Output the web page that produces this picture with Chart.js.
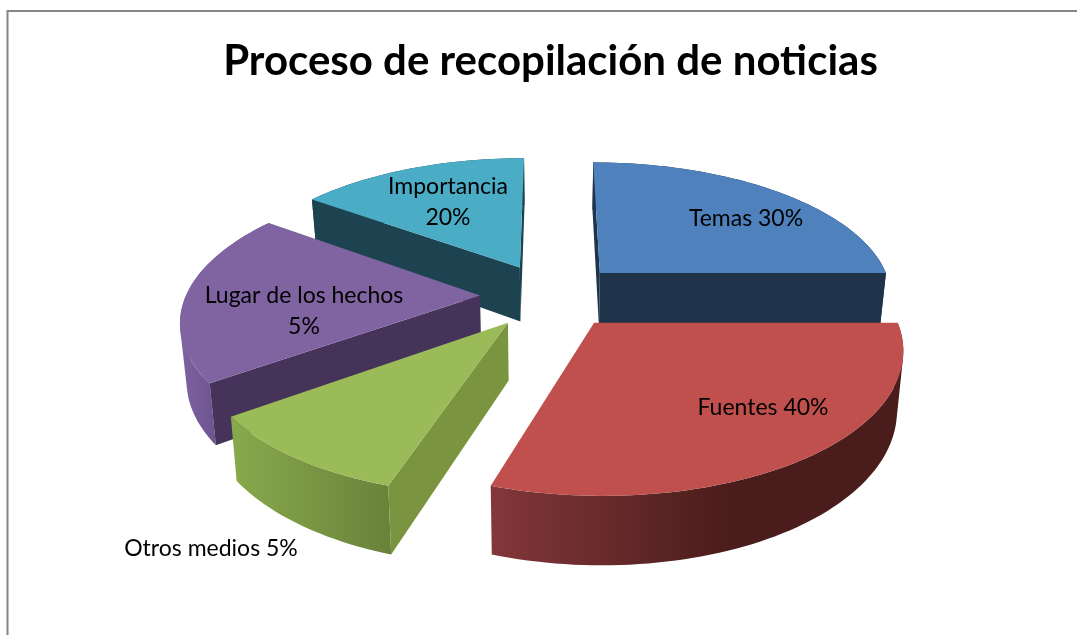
<!DOCTYPE html>
<html lang="es">
<head>
<meta charset="utf-8">
<title>Proceso de recopilación de noticias</title>
<script src="https://cdn.jsdelivr.net/npm/chart.js@4"></script>
<style>
html,body{margin:0;padding:0;background:#fff;overflow:hidden}
canvas{display:block}
</style>
</head>
<body>
<canvas id="c" width="1077" height="635"></canvas>
<script>
// Data
const chartTitle = 'Proceso de recopilación de noticias';
const categories = ['Temas', 'Fuentes', 'Otros medios', 'Lugar de los hechos', 'Importancia'];
const sliceValues = [25, 30, 10, 20, 15];           // size of each drawn slice
const printedLabels = [['Temas 30%'], ['Fuentes 40%'], ['Otros medios 5%'], ['Lugar de los hechos', '5%'], ['Importancia', '20%']];

// Styles
const topColors = ['#4f81bd', '#c0504d', '#9bbb59', '#8064a2', '#4bacc6'];
const sideColors = ['#1f334b', '#4a1c1b', '#7a943f', '#45335a', '#1e4350'];
const rimStops = [
  ['#1f334b', '#1f334b'],
  ['#83373a', '#4a1c1b'],
  ['#88a84c', '#69823a'],
  ['#7f63a2', '#69508a'],
  ['#1e4350', '#1e4350']
];
const rimRanges = [[600, 880], [493, 730], [236, 392], [180, 222], [312, 522]];
const labelCenters = [[746, 219], [763, 408], [211, 549], [304, 296], [448, 187]];
const labelLineGap = 31;

// Projection of the flat pie onto the tilted, perspective view
const view = { cx: 551, cy: 295.5, tilt: 0.46, persp: 0.00055, depth: 56, converge: 0.018, explode: 71 };

function project(X, Y, z) {
  const s = 1 / (1 + view.persp * Y);
  return [view.cx + X * s * (1 - view.converge * z), view.cy - view.tilt * Y * s + z * view.depth * s];
}
function polygon(ctx, pts) {
  ctx.beginPath();
  addLoop(ctx, pts);
}
function addLoop(ctx, pts) {
  pts.forEach((p, i) => i ? ctx.lineTo(p[0], p[1]) : ctx.moveTo(p[0], p[1]));
  ctx.closePath();
}
function signedArea(pts) {
  let a = 0;
  pts.forEach((p, i) => {
    const q = pts[(i + 1) % pts.length];
    a += p[0] * q[1] - q[0] * p[1];
  });
  return a;
}
// A straight wall is seen only when its outer side turns towards the viewer
function facesViewer(px, py, nx, ny) {
  const camY = -1 / view.persp;
  return (0 - px) * nx + (camY - py) * ny > 0;
}

const pie3d = {
  id: 'pie3d',
  beforeDraw(chart) {
    const ctx = chart.ctx;
    ctx.save();
    ctx.strokeStyle = '#868686';
    ctx.lineWidth = 2;
    ctx.beginPath();
    ctx.moveTo(7.5, 640);
    ctx.lineTo(7.5, 11);
    ctx.lineTo(1080, 11);
    ctx.stroke();
    ctx.restore();
  },
  beforeDatasetDraw(chart, args) {
    const ctx = chart.ctx;
    const arcs = args.meta.data;
    const slices = arcs.map((arc, i) => {
      const { startAngle, endAngle, outerRadius } = arc.getProps(['startAngle', 'endAngle', 'outerRadius'], true);
      const mid = (startAngle + endAngle) / 2;
      const off = arc.options.offset;
      const ox = Math.cos(mid) * off, oy = -Math.sin(mid) * off;
      const edge = [];
      const n = Math.ceil((endAngle - startAngle) / (Math.PI / 120));
      for (let k = 0; k <= n; k++) {
        const a = startAngle + (endAngle - startAngle) * k / n;
        edge.push([ox + Math.cos(a) * outerRadius, oy - Math.sin(a) * outerRadius]);
      }
      return { i, ox, oy, edge, startAngle, endAngle };
    }).sort((a, b) => b.oy - a.oy);

    ctx.save();
    for (const sl of slices) {
      const { i, ox, oy, edge, startAngle, endAngle } = sl;
      const top = edge.map(p => project(p[0], p[1], 0));
      const bottom = edge.map(p => project(p[0], p[1], 1));
      const tip0 = project(ox, oy, 0), tip1 = project(ox, oy, 1);
      // outer curved wall: strips wound the same way, filled as one path
      const g = ctx.createLinearGradient(rimRanges[i][0], 0, rimRanges[i][1], 0);
      g.addColorStop(0, rimStops[i][0]);
      g.addColorStop(1, rimStops[i][1]);
      ctx.fillStyle = g;
      ctx.beginPath();
      for (let k = 0; k < top.length - 1; k++) {
        const quad = [top[k], top[k + 1], bottom[k + 1], bottom[k]];
        addLoop(ctx, signedArea(quad) < 0 ? quad.reverse() : quad);
      }
      ctx.fill();
      // straight walls, outward normals in the flat pie's frame
      ctx.fillStyle = sideColors[i];
      if (facesViewer(ox, oy, Math.sin(startAngle), Math.cos(startAngle))) {
        polygon(ctx, [tip0, top[0], bottom[0], tip1]);
        ctx.fill();
      }
      if (facesViewer(ox, oy, -Math.sin(endAngle), -Math.cos(endAngle))) {
        polygon(ctx, [tip0, top[top.length - 1], bottom[bottom.length - 1], tip1]);
        ctx.fill();
      }
      // top face
      polygon(ctx, [tip0].concat(top));
      ctx.fillStyle = topColors[i];
      ctx.fill();
    }
    ctx.restore();
    return false;
  },
  afterDatasetsDraw(chart) {
    const ctx = chart.ctx;
    ctx.save();
    ctx.font = '23px Lato';
    ctx.fillStyle = '#000';
    ctx.textAlign = 'center';
    ctx.textBaseline = 'middle';
    printedLabels.forEach((lines, i) => {
      lines.forEach((t, j) => ctx.fillText(t, labelCenters[i][0], labelCenters[i][1] + j * labelLineGap));
    });
    ctx.restore();
  }
};

new Chart(document.getElementById('c'), {
  type: 'pie',
  plugins: [pie3d],
  data: {
    labels: categories,
    datasets: [{
      data: sliceValues,
      backgroundColor: topColors,
      borderWidth: 0,
      offset: view.explode
    }]
  },
  options: {
    responsive: false,
    animation: false,
    radius: 294,
    layout: { padding: { left: 24 } },
    plugins: {
      legend: { display: false },
      tooltip: { enabled: false },
      title: {
        display: true,
        text: chartTitle,
        color: '#000',
        font: { family: 'Lato', size: 42, weight: 'bold' },
        padding: { top: 36, bottom: 20 }
      }
    }
  }
});
</script>
</body>
</html>
